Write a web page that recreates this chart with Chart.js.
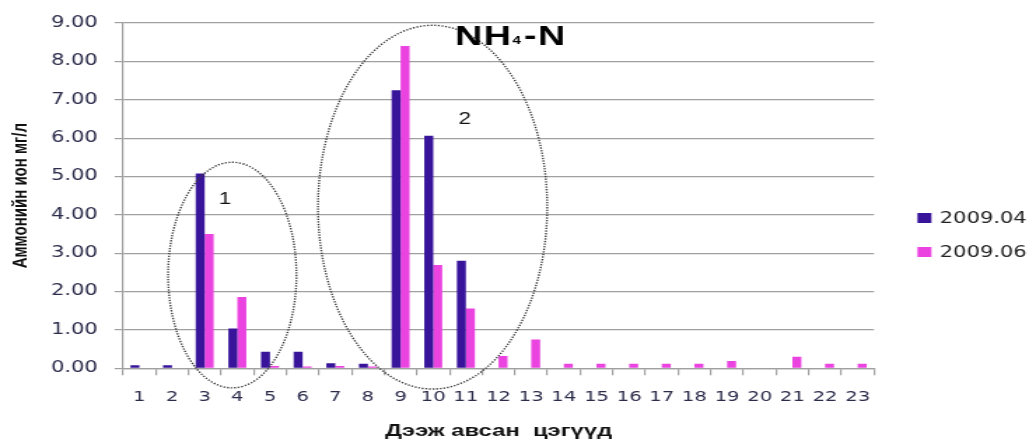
<!DOCTYPE html>
<html>
<head>
<meta charset="utf-8">
<script src="https://cdn.jsdelivr.net/npm/chart.js@4/dist/chart.umd.min.js"></script>
<style>
  html, body { margin: 0; padding: 0; background: #fff; overflow: hidden; }
  /* the chart is laid out narrow and widened horizontally, giving the wide lettering */
  #wrap { width: 735px; height: 442px; transform: scaleX(1.4); transform-origin: 0 0; }
</style>
</head>
<body>
<div id="wrap"><canvas id="c" width="735" height="442"></canvas></div>
<script>
// Sampling sites
const sites = ['1','2','3','4','5','6','7','8','9','10','11','12','13','14','15','16','17','18','19','20','21','22','23'];

// Ammonium ion, mg/l
const april = [0.08, 0.08, 5.08, 1.04, 0.43, 0.43, 0.13, 0.12, 7.25, 6.06, 2.80, 0, 0, 0, 0, 0, 0, 0, 0, 0, 0, 0, 0];
const june  = [0, 0, 3.50, 1.86, 0.06, 0.05, 0.06, 0.05, 8.40, 2.69, 1.56, 0.32, 0.75, 0.12, 0.12, 0.12, 0.12, 0.12, 0.19, 0, 0.30, 0.12, 0.12];

const seriesNames = ['2009.04', '2009.06'];
const seriesColors = ['#38149A', '#EA43E0'];

const yMin = 0, yMax = 9, yStep = 1;

const chartTitle = ['NH', '4', '-N'];
const xTitle = 'Дээж авсан  цэгүүд';
const yTitle = 'Аммонийн ион мг/л';

// Dotted groupings, given in category index / value units
const groups = [
  { name: '1', from: 0.88, to: 4.81, top: 5.37, bottom: -0.51, labelAt: [2.62, 4.41] },
  { name: '2', from: 5.47, to: 12.49, top: 8.94, bottom: -0.54, labelAt: [9.96, 6.49] }
];

const overlay = {
  id: 'overlay',
  afterDatasetsDraw(chart) {
    const { ctx, scales: { x, y } } = chart;
    ctx.save();
    // group ellipses
    ctx.setLineDash([1.3, 1.3]);
    ctx.lineWidth = 1.4;
    ctx.strokeStyle = '#3a3a3a';
    groups.forEach(g => {
      const l = x.getPixelForValue(g.from), r = x.getPixelForValue(g.to);
      const t = y.getPixelForValue(g.top), b = y.getPixelForValue(g.bottom);
      ctx.beginPath();
      ctx.ellipse((l + r) / 2, (t + b) / 2, (r - l) / 2, (b - t) / 2, 0, 0, Math.PI * 2);
      ctx.stroke();
    });
    ctx.setLineDash([]);
    ctx.fillStyle = '#111';
    ctx.font = '16px "Liberation Sans"';
    ctx.textAlign = 'center';
    ctx.textBaseline = 'middle';
    groups.forEach(g => {
      ctx.fillText(g.name, x.getPixelForValue(g.labelAt[0]), y.getPixelForValue(g.labelAt[1]));
    });

    // title inside the plot
    ctx.textAlign = 'left';
    ctx.textBaseline = 'alphabetic';
    ctx.fillStyle = '#000';
    let tx = x.getPixelForValue(9.67);
    const base = y.getPixelForValue(8.42);
    ctx.letterSpacing = '1px';
    ctx.font = 'bold 27px "Liberation Sans"';
    ctx.fillText(chartTitle[0], tx, base);
    tx += ctx.measureText(chartTitle[0]).width;
    ctx.font = 'bold 11px "Liberation Sans"';
    ctx.fillText(chartTitle[1], tx, base - 1);
    tx += ctx.measureText(chartTitle[1]).width + 1;
    ctx.font = 'bold 27px "Liberation Sans"';
    ctx.fillText(chartTitle[2], tx, base);
    ctx.letterSpacing = '0px';

    // legend
    const lx = chart.chartArea.right + 31;
    const rows = [218, 252];
    ctx.font = '15px "DejaVu Sans"';
    ctx.textBaseline = 'middle';
    chart.data.datasets.forEach((ds, i) => {
      ctx.fillStyle = ds.backgroundColor;
      ctx.fillRect(lx, rows[i] - 5, 10, 10);
      ctx.fillStyle = '#222';
      ctx.fillText(ds.label, lx + 16, rows[i] + 1);
    });
    ctx.restore();
  }
};

new Chart(document.getElementById('c'), {
  type: 'bar',
  data: {
    labels: sites,
    datasets: [
      { label: seriesNames[0], data: april, backgroundColor: seriesColors[0] },
      { label: seriesNames[1], data: june, backgroundColor: seriesColors[1] }
    ]
  },
  options: {
    responsive: false,
    animation: false,
    layout: { padding: { left: 0, top: 23, right: 110.7, bottom: 0 } },
    datasets: { bar: { categoryPercentage: 0.55, barPercentage: 1 } },
    plugins: { legend: { display: false }, tooltip: { enabled: false } },
    scales: {
      x: {
        grid: { drawOnChartArea: false, drawTicks: true, tickLength: 7, color: '#a0a0a0', lineWidth: 1.2, offset: true },
        border: { display: true, color: '#a0a0a0', width: 1.2 },
        ticks: { font: { family: 'DejaVu Sans', size: 14 }, color: '#2b2b4b', padding: 14, maxRotation: 0, autoSkip: false },
        title: { display: true, text: xTitle, color: '#111', font: { family: 'Liberation Sans', size: 17, weight: 'bold' }, padding: { top: 0, bottom: 0 } },
        afterFit(s) { s.height = 73.7; }
      },
      y: {
        min: yMin, max: yMax,
        ticks: { stepSize: yStep, callback: v => Number(v).toFixed(2), font: { family: 'DejaVu Sans', size: 15 }, color: '#2b2b4b', padding: 12 },
        grid: { color: '#a0a0a0', lineWidth: 1.2, tickLength: 6 },
        border: { color: '#a0a0a0', width: 1.2 },
        title: { display: true, text: yTitle, color: '#111', font: { family: 'Liberation Sans', size: 15, weight: 'bold' }, padding: { top: 6, bottom: 0 } },
        afterFit(s) { s.width = 87.9; }
      }
    }
  },
  plugins: [overlay]
});
</script>
</body>
</html>
